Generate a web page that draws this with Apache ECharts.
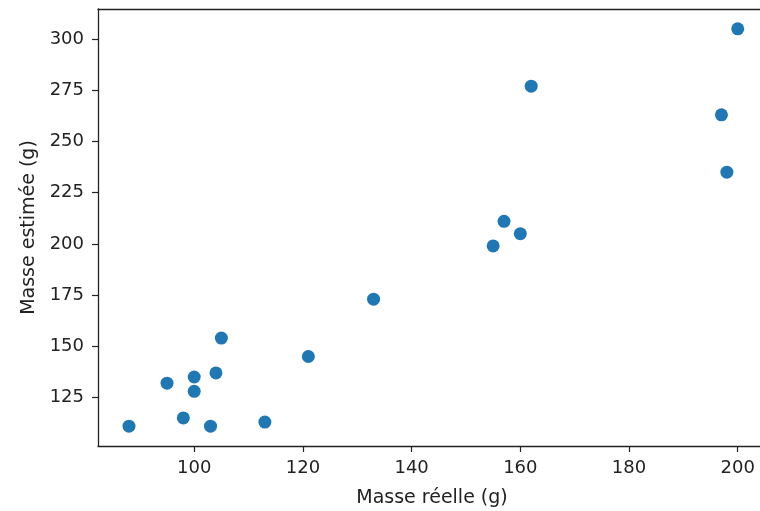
<!DOCTYPE html>
<html>
<head>
<meta charset="utf-8">
<script src="https://cdn.jsdelivr.net/npm/echarts@6/dist/echarts.min.js"></script>
<style>
html,body{margin:0;padding:0;background:#fff;}
#chart{width:760px;height:511px;}
</style>
</head>
<body>
<div id="chart"></div>
<script>
var masseReelle = [88, 95, 98, 100, 100, 103, 104, 105, 113, 121, 133, 155, 157, 160, 162, 197, 198, 200];
var masseEstimee = [111, 132, 115, 135, 128, 111, 137, 154, 113, 145, 173, 199, 211, 205, 277, 263, 235, 305];
var xTicks = [100, 120, 140, 160, 180, 200];
var yTicks = [125, 150, 175, 200, 225, 250, 275, 300];
var xName = 'Masse réelle (g)';
var yName = 'Masse estimée (g)';

var points = masseReelle.map(function (x, i) { return [x, masseEstimee[i]]; });

var chart = echarts.init(document.getElementById('chart'), null, {renderer: 'canvas'});
var font = 'DejaVu Sans';
var lineCol = '#222';
chart.setOption({
  animation: false,
  backgroundColor: '#fff',
  grid: {
    left: 98, top: 9, width: 668, height: 437,
    outerBoundsMode: 'none',
    containLabel: false,
    show: false
  },
  xAxis: [{
    type: 'value',
    min: 82.3, max: 205.2,
    name: xName, nameLocation: 'middle', nameGap: 43,
    nameTextStyle: {fontFamily: font, fontSize: 19, color: lineCol},
    splitLine: {show: false},
    axisLine: {show: true, lineStyle: {color: lineCol, width: 1.3}},
    axisTick: {show: true, customValues: xTicks, length: 6, lineStyle: {color: lineCol, width: 1.2}},
    axisLabel: {customValues: xTicks, margin: 13, fontFamily: font, fontSize: 18, color: lineCol}
  }, {
    type: 'value',
    position: 'top',
    min: 82.3, max: 205.2,
    splitLine: {show: false},
    axisLine: {show: true, lineStyle: {color: lineCol, width: 1.3}},
    axisTick: {show: false},
    axisLabel: {show: false}
  }],
  yAxis: {
    type: 'value',
    min: 101.3, max: 314.7,
    name: yName, nameLocation: 'middle', nameGap: 58,
    nameTextStyle: {fontFamily: font, fontSize: 19, color: lineCol},
    splitLine: {show: false},
    axisLine: {show: true, lineStyle: {color: lineCol, width: 1.3}},
    axisTick: {show: true, customValues: yTicks, length: 6, lineStyle: {color: lineCol, width: 1.2}},
    axisLabel: {customValues: yTicks, margin: 14, fontFamily: font, fontSize: 18, color: lineCol}
  },
  series: [{
    type: 'scatter',
    xAxisIndex: 0,
    data: points,
    symbol: 'circle',
    symbolSize: 13,
    itemStyle: {color: '#1f77b4', opacity: 1}
  }]
});
</script>
</body>
</html>
